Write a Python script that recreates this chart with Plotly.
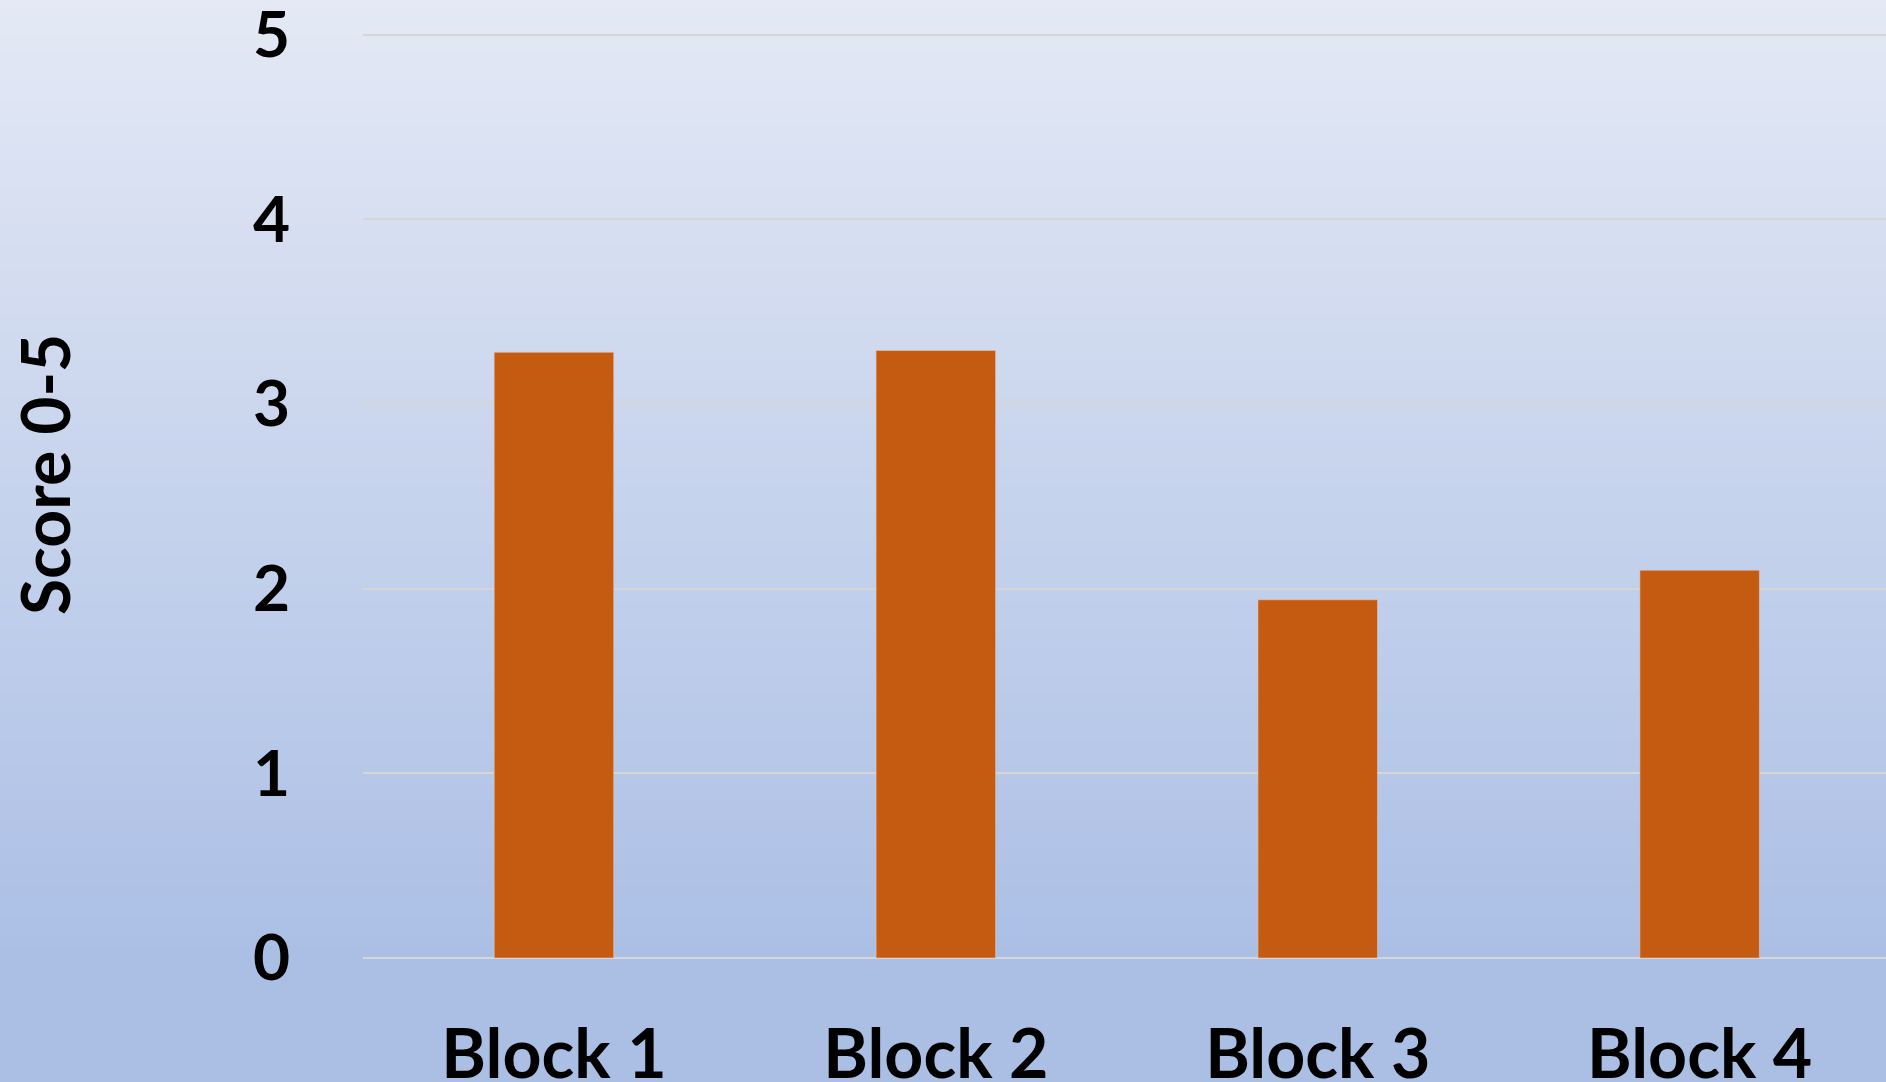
import plotly.graph_objects as go

# data
blocks = ["Block 1", "Block 2", "Block 3", "Block 4"]
scores = [3.28, 3.29, 1.94, 2.10]
y_ticks = [0, 1, 2, 3, 4, 5]

W, H = 1886, 1082
Y_TOP = 5.02
PX_PER_UNIT = 923 / 5
M_L, M_R, M_B = 363, 0, 124
M_T = round(H - M_B - Y_TOP * PX_PER_UNIT)
PLOT_W = W - M_L - M_R
PLOT_H = H - M_T - M_B

BAR = "#c55a11"
GRID = "#d6d6d6"
TOP_BG = (228, 233, 245)
BOT_BG = (171, 191, 229)
FONT = "Lato"


def px_to_paper_y(py):
    return (H - M_B - py) / PLOT_H


def px_to_paper_x(px):
    return (px - M_L) / PLOT_W


def gradient_shapes(n=120, end_px=960):
    shapes = []
    step = H / n
    for i in range(n):
        y0 = i * step
        y1 = min(H, (i + 1) * step + 1)
        t = min(1.0, ((y0 + y1) / 2) / end_px)
        c = tuple(round(a + (b - a) * t) for a, b in zip(TOP_BG, BOT_BG))
        shapes.append(dict(
            type="rect", xref="paper", yref="paper", layer="below",
            x0=px_to_paper_x(0), x1=px_to_paper_x(W + 2),
            y0=px_to_paper_y(y1), y1=px_to_paper_y(max(0, y0 - 1)),
            fillcolor=f"rgb{c}", line=dict(width=0),
        ))
    return shapes


fig = go.Figure()
fig.add_trace(go.Bar(
    x=blocks, y=scores,
    marker=dict(color=BAR, line=dict(color="rgba(225,200,190,0.6)", width=1)),
    hoverinfo="skip",
))

fig.update_layout(
    width=W, height=H,
    margin=dict(l=M_L, r=M_R, t=M_T, b=M_B, pad=0),
    paper_bgcolor="rgb(228,233,245)",
    plot_bgcolor="rgba(0,0,0,0)",
    bargap=0.687,
    showlegend=False,
    font=dict(family=FONT, color="#000000"),
    shapes=gradient_shapes(),
    annotations=[dict(
        text="<b>Score 0-5</b>", xref="paper", yref="paper",
        x=px_to_paper_x(44), y=px_to_paper_y(475),
        xanchor="center", yanchor="middle", textangle=-90, showarrow=False,
        font=dict(family=FONT, size=66, color="#000000"),
    )],
)
fig.update_xaxes(
    range=[-0.5, -0.5 + PLOT_W / 381.9],
    showgrid=False, zeroline=False, showline=False, ticks="",
    tickfont=dict(family=FONT, size=68, color="#000000", weight="bold"),
    ticklabelstandoff=51, ticklabeloverflow="allow", automargin=False,
)
fig.update_yaxes(
    range=[0, Y_TOP], tickvals=y_ticks,
    showgrid=True, gridcolor=GRID, gridwidth=2,
    zeroline=True, zerolinecolor=GRID, zerolinewidth=2,
    showline=False, ticks="",
    tickfont=dict(family=FONT, size=64, color="#000000", weight="bold"),
    ticklabelstandoff=72, ticklabeloverflow="allow", automargin=False,
)

# page body has a default 8px margin; drop it so the chart fills the window
fig.write_html(
    "out.html",
    config={"displayModeBar": False},
    post_script="document.body.style.margin='0';",
)
